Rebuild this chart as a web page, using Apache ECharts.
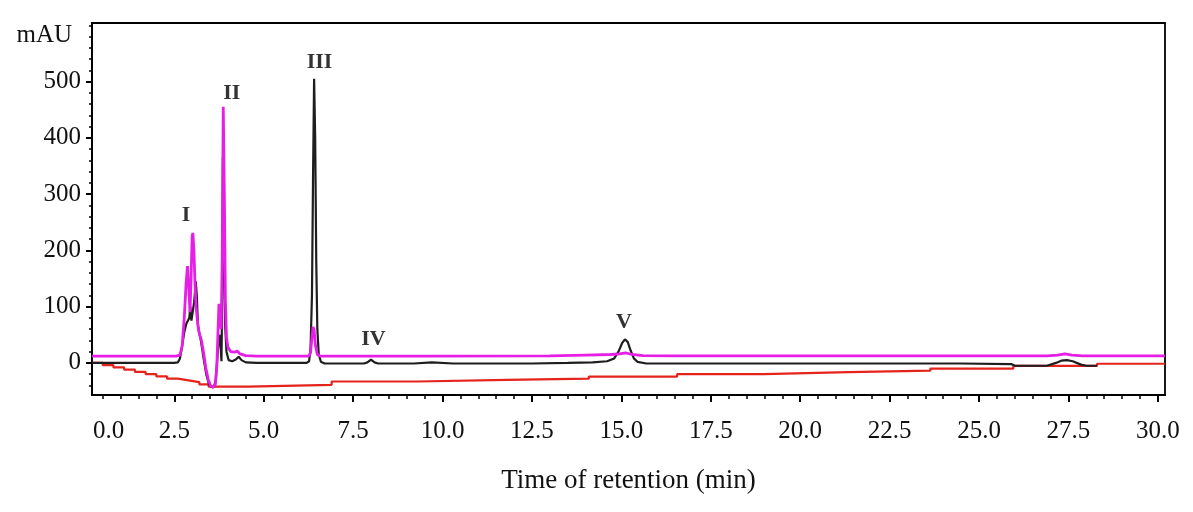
<!DOCTYPE html>
<html>
<head>
<meta charset="utf-8">
<script src="https://cdn.jsdelivr.net/npm/echarts@6/dist/echarts.min.js"></script>
<style>
  html, body { margin: 0; padding: 0; background: #fff; }
  #chart { width: 1193px; height: 512px; }
</style>
</head>
<body>
<div id="chart"></div>
<script>
// ---- data (time in min, absorbance in mAU) ----
const blackTrace = [
  [0.2,0],[2.5,0],[2.6,1],[2.66,8],[2.72,30],[2.78,55],[2.84,70],[2.88,72],[2.92,80],[2.95,100],[2.98,75],
  [3.02,78],[3.06,110],[3.1,145],[3.13,120],[3.16,70],[3.19,55],[3.23,45],[3.28,25],[3.34,0],[3.4,-22],
  [3.47,-38],[3.54,-43],[3.61,-43],[3.66,-30],[3.7,5],[3.74,40],[3.77,50],[3.8,25],[3.82,3],[3.84,120],
  [3.86,366],[3.89,220],[3.92,70],[3.96,20],[4.02,5],[4.12,3],[4.22,6],[4.3,11],[4.38,5],[4.5,1],[4.8,0],
  [6.2,0],[6.27,3],[6.31,25],[6.35,120],[6.38,330],[6.41,505],[6.44,400],[6.47,180],[6.5,60],[6.54,15],
  [6.6,2],[6.7,-1],[7.8,-1],[7.9,1],[8.0,6],[8.1,1],[8.2,-1],[9.2,-1],[9.7,1],[10.3,-1],[12.5,-1],[13.5,0],
  [14.2,1],[14.6,3],[14.8,8],[14.92,20],[15.02,35],[15.1,42],[15.18,37],[15.26,22],[15.35,8],[15.45,2],
  [15.7,-1],[17,-1],[24.5,-1],[25.9,-2],[26.0,-5],[26.9,-5],[27.15,0],[27.3,4],[27.46,5],[27.62,3],
  [27.85,-3],[28.0,-5],[28.3,-5]
];
const magentaTrace = [
  [0.2,12],[2.55,12],[2.66,14],[2.72,30],[2.78,80],[2.83,140],[2.87,172],[2.9,140],[2.94,90],[2.97,150],
  [3.0,225],[3.02,231],[3.05,200],[3.08,140],[3.11,100],[3.14,80],[3.17,62],[3.21,50],[3.26,40],[3.32,18],
  [3.38,-8],[3.45,-30],[3.52,-41],[3.6,-43],[3.65,-38],[3.69,-5],[3.72,50],[3.75,105],[3.78,95],[3.81,60],
  [3.84,180],[3.87,455],[3.9,300],[3.93,110],[3.96,45],[4.0,28],[4.08,20],[4.18,19],[4.26,21],[4.34,16],
  [4.5,13],[4.8,12],[6.26,12],[6.31,18],[6.35,45],[6.38,64],[6.41,58],[6.45,30],[6.5,15],[6.58,12],
  [9.5,12],[13.0,12.5],[14.0,14],[14.7,15],[14.95,16],[15.12,18],[15.3,15],[15.6,13],[16.5,12.5],
  [26.9,12.5],[27.2,14],[27.4,16],[27.6,14],[27.9,12.5],[30.2,12.5]
];
const redTrace = [
  [0.2,0],[0.5,-4],[0.8,-8],[1.1,-12],[1.4,-16],[1.7,-20],[2.0,-24],[2.3,-28],[2.6,-31],[2.9,-34],
  [3.2,-38],[3.46,-42],
  [4.57,-39],[6.9,-33],[9.3,-30],[11.8,-28],[14.09,-24.3],[16.56,-20],[18.98,-16.5],[21.36,-13.7],
  [23.64,-10],[25.96,-5.3],[28.3,-1.5],[30.2,-1.5]
];
const peakNames = ['I','II','III','IV','V'];
const peakX = [2.83, 4.11, 6.56, 8.07, 15.07];
const peakY = [263, 479, 535, 42, 73];

const xMajorTicks = [2.5,5,7.5,10,12.5,15,17.5,20,22.5,25,27.5,30];
const xMinorTicks = [];
for (let i = 1; i <= 60; i++) { const v = i * 0.5; if (v % 2.5 !== 0) xMinorTicks.push(v); }
const yMajorTicks = [0,100,200,300,400,500];
const yMinorTicks = [];
for (let v = -40; v <= 600; v += 20) { if (v % 100 !== 0) yMinorTicks.push(v); }
yMinorTicks.push(600);

const X_MIN = 0.2, X_MAX = 30.2, Y_MIN = -57, Y_MAX = 604;
const FONT = '"Liberation Serif", "Times New Roman", serif';
const INK = '#111';

const chart = echarts.init(document.getElementById('chart'), null, {renderer: 'canvas'});
const gridBox = {left: 92, right: 28, top: 23, bottom: 117};

const option = {
  animation: false,
  backgroundColor: '#fff',
  grid: [
    Object.assign({show: true, borderColor: '#000', borderWidth: 1.8, backgroundColor: 'transparent'}, gridBox),
    Object.assign({show: false}, gridBox)
  ],
  xAxis: [
    {
      type: 'value', gridIndex: 0, min: X_MIN, max: X_MAX,
      axisLine: {show: true, onZero: false, lineStyle: {color: '#000', width: 2}},
      axisTick: {show: true, customValues: xMajorTicks, length: 7, lineStyle: {color: '#000', width: 2}},
      axisLabel: {show: true, customValues: xMajorTicks, margin: 24, color: INK, fontFamily: FONT, fontSize: 25,
        formatter: v => v.toFixed(1)},
      splitLine: {show: false},
      name: 'Time of retention (min)', nameLocation: 'middle', nameGap: 72,
      nameTextStyle: {color: INK, fontFamily: FONT, fontSize: 27}
    },
    {
      type: 'value', gridIndex: 1, min: X_MIN, max: X_MAX,
      axisLine: {show: false, onZero: false},
      axisTick: {show: true, customValues: xMinorTicks, length: 4, lineStyle: {color: '#000', width: 1.5}},
      axisLabel: {show: false}, splitLine: {show: false}
    }
  ],
  yAxis: [
    {
      type: 'value', gridIndex: 0, min: Y_MIN, max: Y_MAX,
      axisLine: {show: true, onZero: false, lineStyle: {color: '#000', width: 2}},
      axisTick: {show: true, customValues: yMajorTicks, length: 6, lineStyle: {color: '#000', width: 2}},
      axisLabel: {show: true, customValues: yMajorTicks, margin: 11, color: INK, fontFamily: FONT, fontSize: 25},
      splitLine: {show: false},
      name: 'mAU', nameLocation: 'end', nameGap: -12,
      nameTextStyle: {color: INK, fontFamily: FONT, fontSize: 25, align: 'right', verticalAlign: 'middle', padding: [0, 20, 0, 0]}
    },
    {
      type: 'value', gridIndex: 1, min: Y_MIN, max: Y_MAX,
      axisLine: {show: false, onZero: false},
      axisTick: {show: true, customValues: yMinorTicks, length: 3, lineStyle: {color: '#000', width: 1.5}},
      axisLabel: {show: false}, splitLine: {show: false}
    }
  ],
  series: [
    {
      name: 'red', type: 'line', xAxisIndex: 0, yAxisIndex: 0, data: redTrace, step: 'end',
      showSymbol: false, symbol: 'none', lineStyle: {color: '#e5231d', width: 2.2}, z: 2
    },
    {
      name: 'black', type: 'line', xAxisIndex: 0, yAxisIndex: 0, data: blackTrace,
      showSymbol: false, symbol: 'none', lineStyle: {color: '#1e1e1e', width: 2.2}, z: 3
    },
    {
      name: 'magenta', type: 'line', xAxisIndex: 0, yAxisIndex: 0, data: magentaTrace,
      showSymbol: false, symbol: 'none', lineStyle: {color: '#e61ee6', width: 2.8}, z: 4
    },
    {
      name: 'peaks', type: 'scatter', xAxisIndex: 0, yAxisIndex: 0, symbolSize: 0,
      itemStyle: {color: '#000'},
      data: peakNames.map((n, i) => ({value: [peakX[i], peakY[i]], name: n})),
      label: {show: true, position: 'inside', formatter: p => p.name, color: '#000',
        fontFamily: FONT, fontWeight: 'bold', fontSize: 22},
      z: 5
    }
  ]
};
chart.setOption(option);

// "0.0" label sits just right of the axis start, as in the reference
const p0 = chart.convertToPixel({xAxisIndex: 0, yAxisIndex: 0}, [X_MIN, Y_MIN]);
chart.setOption({
  graphic: [{
    type: 'text', left: p0[0] + 1, top: p0[1] + 24,
    style: {text: '0.0', fill: INK, font: '25px ' + FONT}
  }]
});
</script>
</body>
</html>
